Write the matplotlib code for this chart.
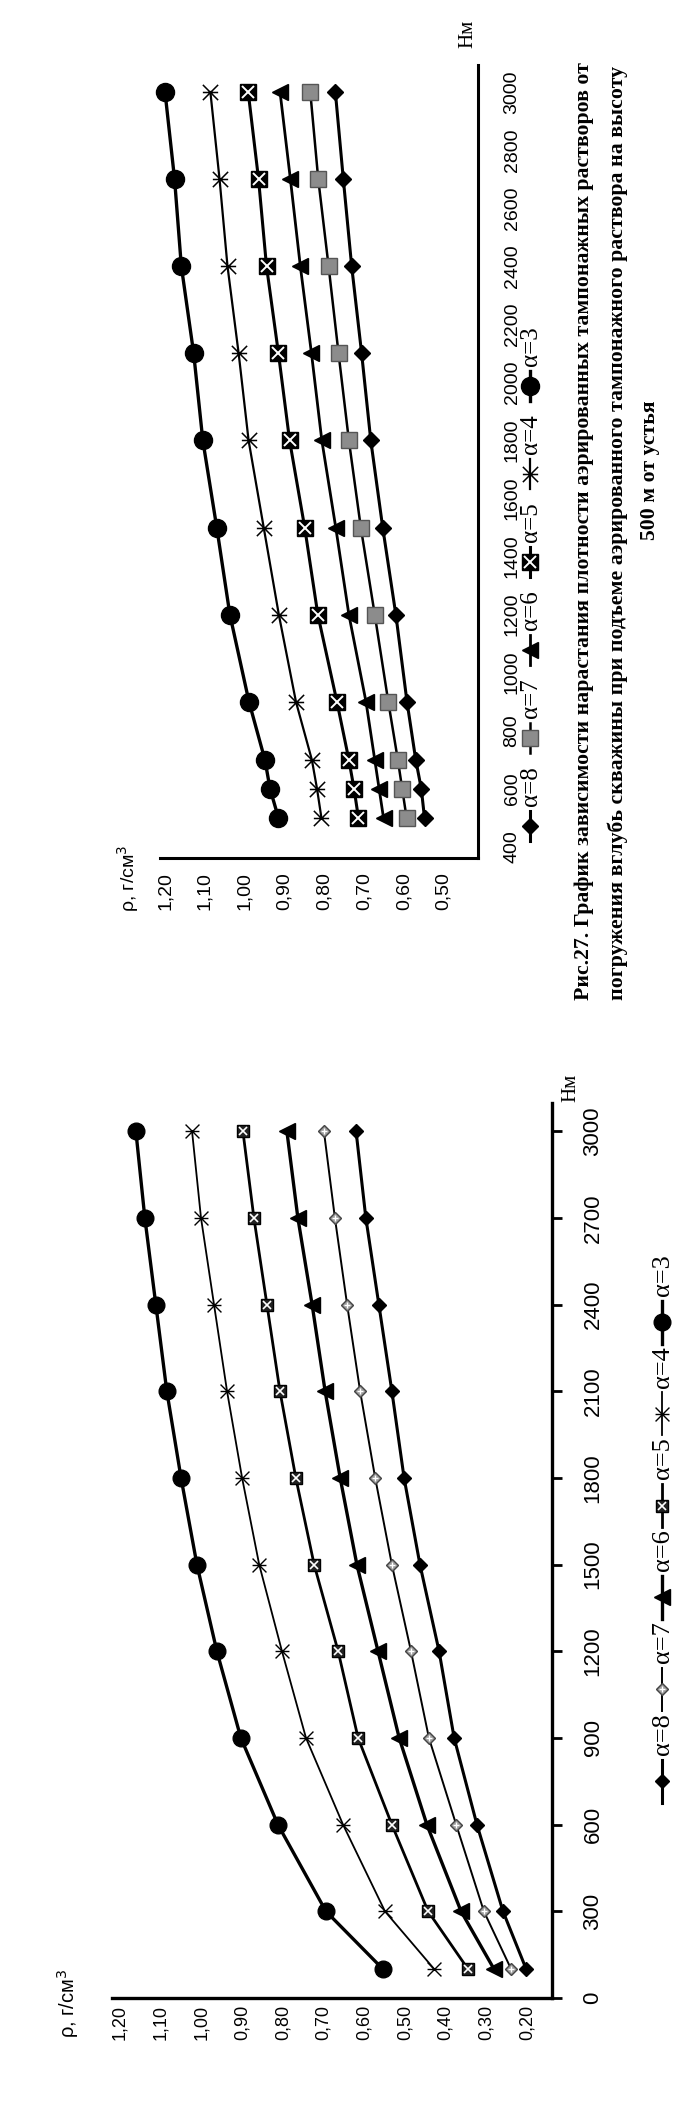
import matplotlib
matplotlib.use("Agg")
import matplotlib.pyplot as plt
import matplotlib.transforms as mtransforms
from matplotlib.lines import Line2D
from matplotlib.path import Path
from matplotlib import font_manager

W, H = 700, 2128

# ---------- upper chart (Рис.27) ----------
depth_top = [500, 600, 700, 900, 1200, 1500, 1800, 2100, 2400, 2700, 3000]
rho_top_a3 = [0.915, 0.936, 0.949, 0.989, 1.037, 1.070, 1.105, 1.128, 1.159, 1.176, 1.200]
rho_top_a4 = [0.807, 0.818, 0.831, 0.871, 0.914, 0.952, 0.990, 1.015, 1.043, 1.063, 1.086]
rho_top_a5 = [0.714, 0.725, 0.738, 0.768, 0.816, 0.849, 0.887, 0.915, 0.945, 0.965, 0.991]
rho_top_a6 = [0.651, 0.662, 0.673, 0.695, 0.738, 0.771, 0.806, 0.832, 0.860, 0.885, 0.911]
rho_top_a7 = [0.593, 0.604, 0.615, 0.639, 0.673, 0.708, 0.738, 0.764, 0.789, 0.815, 0.835]
rho_top_a8 = [0.548, 0.556, 0.570, 0.592, 0.620, 0.653, 0.683, 0.706, 0.731, 0.752, 0.772]
rho_top_ticks = [1.2, 1.1, 1.0, 0.9, 0.8, 0.7, 0.6, 0.5]
rho_top_labels = ["1,20", "1,10", "1,00", "0,90", "0,80", "0,70", "0,60", "0,50"]
depth_top_ticks = [400, 600, 800, 1000, 1200, 1400, 1600, 1800, 2000, 2200, 2400, 2600, 2800, 3000]

# ---------- lower chart ----------
depth_bot = [100, 300, 600, 900, 1200, 1500, 1800, 2100, 2400, 2700, 3000]
rho_bot_a3 = [0.554, 0.694, 0.812, 0.903, 0.962, 1.011, 1.050, 1.085, 1.112, 1.139, 1.161]
rho_bot_a4 = [0.428, 0.549, 0.652, 0.743, 0.802, 0.858, 0.900, 0.937, 0.969, 1.001, 1.023]
rho_bot_a5 = [0.345, 0.443, 0.532, 0.615, 0.664, 0.723, 0.768, 0.807, 0.839, 0.871, 0.898]
rho_bot_a6 = [0.281, 0.362, 0.446, 0.514, 0.566, 0.618, 0.659, 0.696, 0.728, 0.763, 0.790]
rho_bot_a7 = [0.239, 0.306, 0.374, 0.441, 0.485, 0.532, 0.573, 0.610, 0.642, 0.672, 0.699]
rho_bot_a8 = [0.202, 0.259, 0.323, 0.379, 0.416, 0.463, 0.502, 0.532, 0.564, 0.596, 0.620]
rho_bot_ticks = [1.2, 1.1, 1.0, 0.9, 0.8, 0.7, 0.6, 0.5, 0.4, 0.3, 0.2]
rho_bot_labels = ["1,20", "1,10", "1,00", "0,90", "0,80", "0,70", "0,60", "0,50", "0,40", "0,30", "0,20"]
depth_bot_ticks = [0, 300, 600, 900, 1200, 1500, 1800, 2100, 2400, 2700, 3000]
depth_bot_labels = ["0", "300", "600", "900", "1200", "1500", "1800", "2100", "2400", "2700", "3000"]

legend_names = ["α=8", "α=7", "α=6", "α=5", "α=4", "α=3"]

caption = [
    "Рис.27. График зависимости нарастания плотности аэрированных тампонажных растворов от",
    "погружения вглубь скважины при подъеме аэрированного тампонажного раствора на высоту",
    "500 м от устья",
]

names = {f.name for f in font_manager.fontManager.ttflist}
if "Liberation Sans Narrow" in names:
    TOP_FONT, TOP_SIZE = "Liberation Sans Narrow", 15.5
else:
    TOP_FONT, TOP_SIZE = "Liberation Sans", 14
SANS = "Liberation Sans"
SERIF = "Liberation Serif"

star = Path([(-1, -1), (1, 1), (-1, 1), (1, -1), (-1, 0), (1, 0)],
            [Path.MOVETO, Path.LINETO] * 3)


def fx(x):
    return x / W


def fy(y):
    return 1 - y / H


# marker styles, order a8 .. a3 (same as legend)
top_styles = [
    dict(marker="D", ms=8, mfc="k", mec="k", lw=2.2),
    dict(marker="s", ms=11, mfc="#8c8c8c", mec="#555555", lw=1.8),
    dict(marker="<", ms=11, mfc="k", mec="k", lw=2.0),
    dict(marker="s", ms=12, mfc="k", mec="k", lw=2.2, over=dict(marker="x", ms=8, mec="white", mew=1.4)),
    dict(marker=star, ms=11, mfc="none", mec="k", mew=1.1, lw=1.6),
    dict(marker="o", ms=13, mfc="k", mec="k", lw=2.4),
]
bot_styles = [
    dict(marker="D", ms=7, mfc="k", mec="k", lw=2.2),
    dict(marker="D", ms=6.5, mfc="#9a9a9a", mec="#444444", lw=1.4, over=dict(marker="+", ms=5, mec="white", mew=1.0)),
    dict(marker="<", ms=12, mfc="k", mec="k", lw=2.4),
    dict(marker="s", ms=8.5, mfc="#222222", mec="k", lw=2.0, over=dict(marker="x", ms=6, mec="white", mew=1.2)),
    dict(marker=star, ms=10, mfc="none", mec="k", mew=1.0, lw=1.3),
    dict(marker="o", ms=12, mfc="k", mec="k", lw=2.4),
]


def draw_series(ax, depth, rho, st):
    ax.plot(rho, depth, color="k", lw=st["lw"], marker=st["marker"], ms=st["ms"],
            mfc=st["mfc"], mec=st["mec"], mew=st.get("mew", 1.0), zorder=3, clip_on=False)
    if "over" in st:
        o = st["over"]
        ax.plot(rho, depth, ls="none", marker=o["marker"], ms=o["ms"], mec=o["mec"],
                mew=o["mew"], zorder=4, clip_on=False)


def draw_legend(fig, x, y0, step, seg, text_off, styles, size):
    for k, (st, name) in enumerate(zip(styles, legend_names)):
        y = y0 - step * k
        fig.add_artist(Line2D([fx(x), fx(x)], [fy(y + seg / 2), fy(y - seg / 2)],
                              transform=fig.transFigure, color="k", lw=st["lw"]))
        fig.add_artist(Line2D([fx(x)], [fy(y)], transform=fig.transFigure, ls="none",
                              marker=st["marker"], ms=st["ms"], mfc=st["mfc"], mec=st["mec"],
                              mew=st.get("mew", 1.0)))
        if "over" in st:
            o = st["over"]
            fig.add_artist(Line2D([fx(x)], [fy(y)], transform=fig.transFigure, ls="none",
                                  marker=o["marker"], ms=o["ms"], mec=o["mec"], mew=o["mew"]))
        fig.text(fx(x + 1), fy(y - text_off), name, rotation=90, ha="center", va="center",
                 family=SERIF, fontsize=size)


def style_axes(ax, lw):
    for s in ("top", "left"):
        ax.spines[s].set_visible(False)
    for s in ("bottom", "right"):
        ax.spines[s].set_linewidth(lw)
    ax.set_xticks([])
    ax.patch.set_alpha(0)


fig = plt.figure(figsize=(W / 100, H / 100), dpi=100)

# ---------- upper chart ----------
ax1 = fig.add_axes([fx(160), fy(858), (478 - 160) / W, (858 - 65) / H])
style_axes(ax1, 2.2)
ax1.set_xlim(1.2126, 0.4136)
ax1.set_ylim(362, 3093)
ax1.set_yticks([])
for rho, st in zip([rho_top_a8, rho_top_a7, rho_top_a6, rho_top_a5, rho_top_a4, rho_top_a3], top_styles):
    draw_series(ax1, depth_top, rho, st)

tr_y = mtransforms.blended_transform_factory(fig.transFigure, ax1.transData)
for d in depth_top_ticks:
    ax1.text(fx(512), d, str(d), transform=tr_y, rotation=90, ha="center", va="center",
             family=TOP_FONT, fontsize=TOP_SIZE)
tr_x = mtransforms.blended_transform_factory(ax1.transData, fig.transFigure)
for r, lab in zip(rho_top_ticks, rho_top_labels):
    ax1.text(r, fy(891), lab, transform=tr_x, rotation=90, ha="center", va="center",
             family=TOP_FONT, fontsize=TOP_SIZE)
fig.text(fx(128), fy(878), "ρ, г/см$^3$", rotation=90, ha="center", va="center",
         family=SANS, fontsize=14)
fig.text(fx(468), fy(34), "Нм", rotation=90, ha="center", va="center", family=SERIF, fontsize=15)
draw_legend(fig, 530, 826, 88, 30, 40, top_styles, 18)

# ---------- caption ----------
CAP_BOTTOM, CAP_TOP = 1000, 65
cap1 = fig.text(fx(584), fy(CAP_BOTTOM), caption[0], rotation=90, ha="center", va="bottom",
                family=SERIF, weight="bold", fontsize=16)
cap2 = fig.text(fx(618), fy(CAP_BOTTOM), caption[1], rotation=90, ha="center", va="bottom",
                family=SERIF, weight="bold", fontsize=16)
fig.canvas.draw()
rend = fig.canvas.get_renderer()
for t in (cap1, cap2):
    ext = t.get_window_extent(rend)
    t.set_fontsize(t.get_fontsize() * (CAP_BOTTOM - CAP_TOP) / ext.height)
fig.text(fx(650), fy(470), caption[2], rotation=90, ha="center", va="center",
         family=SERIF, weight="bold", fontsize=cap1.get_fontsize())

# ---------- lower chart ----------
ax2 = fig.add_axes([fx(112), fy(1998), (552 - 112) / W, (1998 - 1103) / H])
style_axes(ax2, 2.4)
ax2.set_xlim(1.2197, 0.1386)
ax2.set_ylim(0, 3098)
ax2.set_yticks(depth_bot_ticks)
ax2.tick_params(axis="y", left=False, right=True, labelleft=False, labelright=False,
                direction="out", length=7, width=2.0)
for rho, st in zip([rho_bot_a8, rho_bot_a7, rho_bot_a6, rho_bot_a5, rho_bot_a4, rho_bot_a3], bot_styles):
    draw_series(ax2, depth_bot, rho, st)

tr_y2 = mtransforms.blended_transform_factory(fig.transFigure, ax2.transData)
for d, lab in zip(depth_bot_ticks, depth_bot_labels):
    ax2.text(fx(593), d, lab, transform=tr_y2, rotation=90, ha="center", va="center",
             family=SANS, fontsize=16)
tr_x2 = mtransforms.blended_transform_factory(ax2.transData, fig.transFigure)
for r, lab in zip(rho_bot_ticks, rho_bot_labels):
    ax2.text(r, fy(2022), lab, transform=tr_x2, rotation=90, ha="center", va="center",
             family=SANS, fontsize=13)
fig.text(fx(68), fy(2003), "ρ, г/см$^3$", rotation=90, ha="center", va="center",
         family=SANS, fontsize=14.5)
fig.text(fx(571), fy(1088), "Нм", rotation=90, ha="center", va="center", family=SERIF, fontsize=15)
draw_legend(fig, 662, 1781, 91.8, 43, 47, bot_styles, 19)

fig.savefig("out.png", dpi=100)
